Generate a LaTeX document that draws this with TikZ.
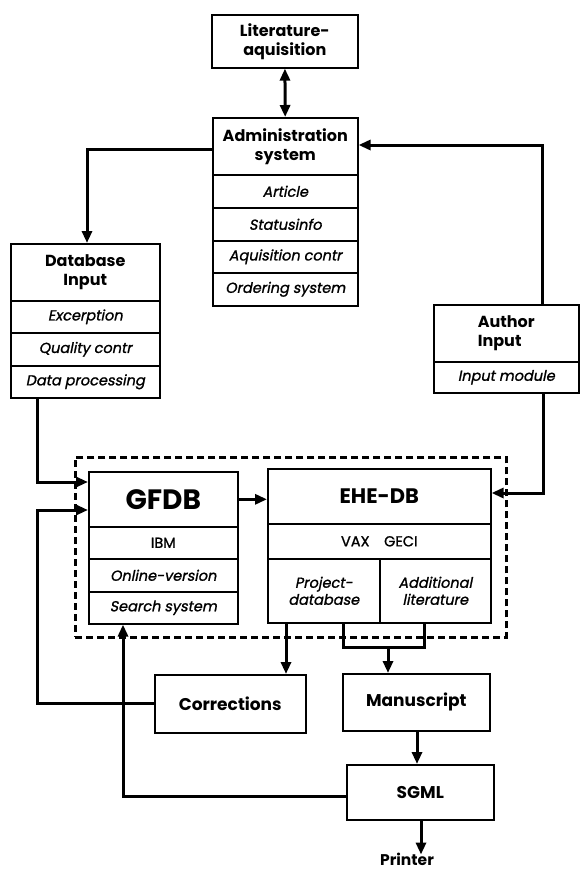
\documentclass[tikz,border=0pt]{standalone}
\usepackage{fontspec}
\setmainfont{Poppins}[AutoFakeSlant=0.2]
\newfontfamily\rowfont{Poppins}[FakeBold=1.2,AutoFakeSlant=0.2]
\usetikzlibrary{arrows.meta,calc}
\begin{document}
\begin{tikzpicture}[x=1pt,y=-1pt,
  box/.style={draw,line width=1.6pt,inner sep=0pt,anchor=north west,align=center,
    font=\fontsize{16}{19}\selectfont\bfseries},
  row/.style={box,font=\fontsize{14.5}{17}\selectfont\rowfont\itshape},
  plainrow/.style={box,font=\fontsize{14.5}{17}\selectfont\rowfont},
  big/.style={box,font=\fontsize{17}{20}\selectfont\bfseries},
  conn/.style={line width=3pt},
  tip/.style={-{Triangle[length=12pt,width=10pt]}},
  grp/.style={draw,line width=2.6pt,dash pattern=on 7pt off 4pt,inner sep=0pt,anchor=north west},
]
\useasboundingbox (0,0) rectangle (580,873);
% group
\node[grp,minimum width=431pt,minimum height=180pt] (grp) at (74,456) {};
% literature
\node[box,minimum width=146pt,minimum height=53pt] (lit) at (211,14) {Literature-\\aquisition};
% administration
\node[box,minimum width=145pt,minimum height=57pt] (adm) at (212,117) {Administration\\system};
\node[row,minimum width=145pt,minimum height=33pt] (art) at (212,174) {Article};
\node[row,minimum width=145pt,minimum height=33pt] (sta) at (212,207) {Statusinfo};
\node[row,minimum width=145pt,minimum height=32pt] (aqc) at (212,240) {Aquisition contr};
\node[row,minimum width=145pt,minimum height=33pt] (ord) at (212,272) {Ordering system};
% database input
\node[box,minimum width=149pt,minimum height=57pt] (db) at (10,243) {Database\\Input};
\node[row,minimum width=149pt,minimum height=32pt] (exc) at (10,300) {Excerption};
\node[row,minimum width=149pt,minimum height=33pt] (qua) at (10,332) {Quality contr};
\node[row,minimum width=149pt,minimum height=32pt] (dp) at (10,365) {Data processing};
% author input
\node[box,minimum width=145pt,minimum height=57pt,align=left] (au) at (433,304) {Author\\Input};
\node[row,minimum width=145pt,minimum height=31pt] (aum) at (433,361) {Input module};
% GFDB
\node[box,minimum width=149pt,minimum height=55pt,font=\fontsize{28}{30}\selectfont\bfseries] (gfdb) at (88,471) {GFDB};
\node[plainrow,minimum width=149pt,minimum height=32pt] (ibm) at (88,526) {IBM};
\node[row,minimum width=149pt,minimum height=33pt] (onl) at (88,558) {Online-version};
\node[row,minimum width=149pt,minimum height=32pt] (srch) at (88,591) {Search system};
% EHE-DB
\node[box,minimum width=223pt,minimum height=55pt,font=\fontsize{21}{24}\selectfont\bfseries] (ehe) at (267,468) {EHE-DB};
\node[plainrow,minimum width=223pt,minimum height=35pt] (vax) at (267,523) {VAX\hspace{1em}GECI};
\node[row,minimum width=112pt,minimum height=64pt] (proj) at (267,558) {Project-\\database};
\node[row,minimum width=111pt,minimum height=64pt] (add) at (379,558) {Additional\\literature};
% lower boxes
\node[big,minimum width=151pt,minimum height=58pt] (corr) at (154,674) {Corrections};
\node[big,minimum width=147pt,minimum height=57pt] (ms) at (342,673) {Manuscript};
\node[big,minimum width=147pt,minimum height=55pt] (sg) at (346,764) {SGML};
\node[font=\fontsize{15.5}{17}\selectfont\bfseries,inner sep=0pt] (pr) at (407,859) {Printer};
% coordinates
\coordinate (k1) at (87,149);
\coordinate (k2) at (542,145);
\coordinate (k3) at (543,493);
\coordinate (k4) at (37,482);
\coordinate (k5) at (37,510);
\coordinate (k6) at (286,0);
\coordinate (k7) at (343,647);
\coordinate (k8) at (424,647);
\coordinate (k9) at (388,647);
\coordinate (k10) at (417,0);
\coordinate (k11) at (123,796);
\coordinate (k12) at (421,0);
% connectors
\draw[conn,{Triangle[length=12pt,width=10pt]}-{Triangle[length=12pt,width=10pt]}] (lit) -- (adm);
\draw[conn,tip] (k1 -| adm.west) -- (k1) -- (k1 |- db.north);
\draw[conn,tip] (k2 |- au.north) -- (k2) -- (k2 -| adm.east);
\draw[conn,tip] (k3 |- aum.south) -- (k3) -- (k3 -| ehe.east);
\draw[conn,tip] (k4 |- dp.south) -- (k4) -- (k4 -| gfdb.west);
\draw[conn,tip] (corr.west) -- (corr.west -| k5) -- (k5) -- (k5 -| gfdb.west);
\draw[conn,tip] (gfdb.east) -- (gfdb.east -| ehe.west);
\draw[conn,tip] (k6 |- proj.south) -- (k6 |- corr.north);
\draw[conn] (k7 |- proj.south) -- (k7) -- (k8) -- (k8 |- add.south);
\draw[conn,tip] (k9) -- (k9 |- ms.north);
\draw[conn,tip] (k10 |- ms.south) -- (k10 |- sg.north);
\draw[conn,tip] (k11 -| sg.west) -- (k11) -- (k11 |- srch.south);
\draw[conn,tip] (k12 |- sg.south) -- ([yshift=-2pt]k12 |- pr.north);
\end{tikzpicture}
\end{document}
